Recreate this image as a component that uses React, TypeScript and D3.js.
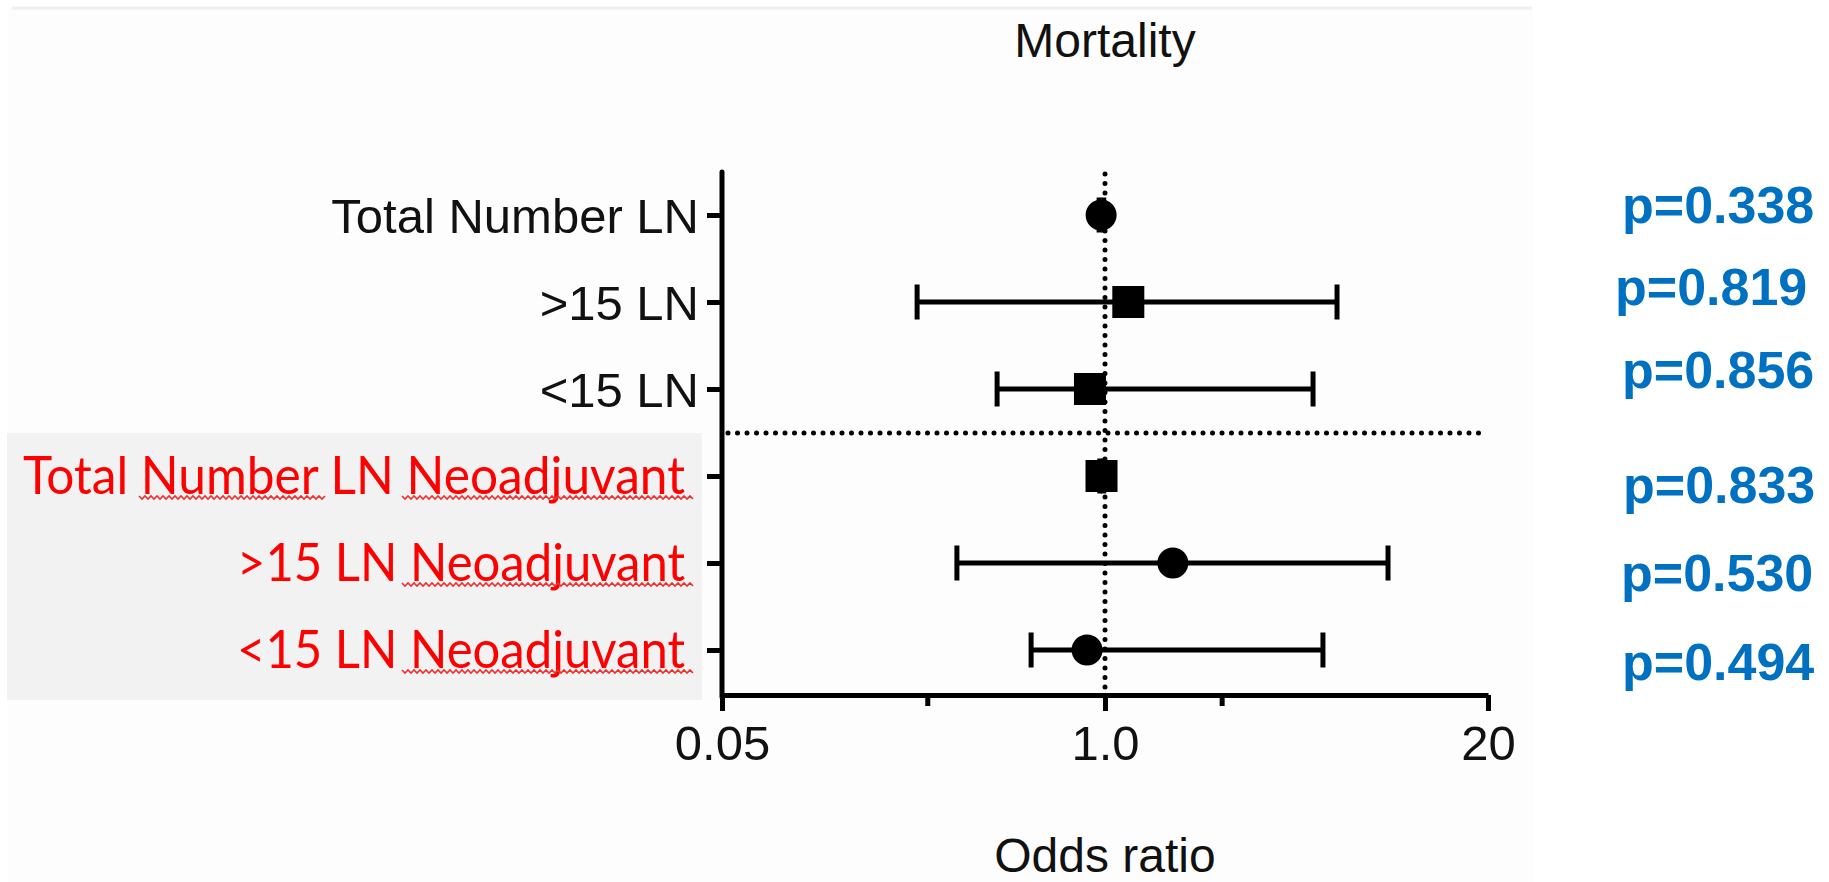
import { useEffect, useRef } from "react";
import * as d3 from "d3";

// Forest plot: odds ratio of mortality per lymph-node group
const ROWS = [
  "Total Number LN",
  ">15 LN",
  "<15 LN",
  "Total Number LN Neoadjuvant",
  ">15 LN Neoadjuvant",
  "<15 LN Neoadjuvant",
];
const ODDS = [0.97, 1.2, 0.889, 0.973, 1.7, 0.869];
const LOWER = [0.955, 0.23, 0.43, 0.96, 0.314, 0.561];
const UPPER = [0.99, 6.14, 5.09, 0.99, 9.15, 5.5];
const MARKERS = ["circle", "square", "square", "square", "circle", "circle"];
const NEOADJUVANT = [false, false, false, true, true, true];
const P_VALUES = ["p=0.338", "p=0.819", "p=0.856", "p=0.833", "p=0.530", "p=0.494"];

const X_TICKS = [0.05, 1, 20];
const X_TICK_LABELS = ["0.05", "1.0", "20"];
const MINOR_TICKS = [0.25, 2.5];

// layout
const W = 1829;
const H = 882;
const PLOT = { left: 722, right: 1488, top: 172, bottom: 695, firstRow: 215, lastRow: 650 };
const P_X = [1622, 1615, 1622, 1623, 1621, 1622];
const P_Y = [223, 305, 388, 503, 591, 680];
const RED_WIDTH = [0, 0, 0, 662, 448, 448];
const ARIAL = "Arial, 'Liberation Sans', Helvetica, sans-serif";
const STROKE = 5;

function squiggle(x0: number, x1: number, y: number) {
  const pts: [number, number][] = [];
  for (let x = x0, i = 0; x <= x1; x += 3, i++) pts.push([x, y + (i % 2 ? 3 : 0)]);
  return d3.line()(pts) ?? "";
}

export default function App() {
  const svgRef = useRef<SVGSVGElement>(null);

  useEffect(() => {
    if (!svgRef.current) return;
    const svg = d3.select(svgRef.current);
    svg.selectAll("*").remove();

    const x = d3.scaleLog().domain([0.05, 20]).range([PLOT.left, PLOT.right]);
    const y = d3.scalePoint<string>().domain(ROWS).range([PLOT.firstRow, PLOT.lastRow]);

    // page background / frame
    svg.append("rect").attr("x", 8).attr("y", 8).attr("width", 1525).attr("height", H - 8).attr("fill", "#fdfdfd");
    svg.append("line").attr("x1", 12).attr("x2", 1532).attr("y1", 8).attr("y2", 8)
      .attr("stroke", "#efefef").attr("stroke-width", 3);

    // shaded neoadjuvant label block
    svg.append("rect").attr("x", 7).attr("y", 433).attr("width", 695).attr("height", 267).attr("fill", "#f2f2f2");

    // title
    svg.append("text").attr("x", x(1)).attr("y", 57).attr("text-anchor", "middle")
      .attr("font-family", ARIAL).attr("font-size", 48).attr("fill", "#111").text("Mortality");

    // reference lines
    svg.append("line")
      .attr("x1", x(1)).attr("x2", x(1)).attr("y1", PLOT.top + 2).attr("y2", PLOT.bottom)
      .attr("stroke", "#000").attr("stroke-width", 5).attr("stroke-linecap", "round")
      .attr("stroke-dasharray", "0,9.5");
    svg.append("line")
      .attr("x1", PLOT.left + 6).attr("x2", 1482).attr("y1", 433).attr("y2", 433)
      .attr("stroke", "#000").attr("stroke-width", 5).attr("stroke-linecap", "round")
      .attr("stroke-dasharray", "0,9.5");

    // x axis
    const gx = svg.append("g").attr("transform", `translate(0,${PLOT.bottom})`);
    gx.call(
      d3.axisBottom(x).tickValues(X_TICKS).tickSize(16).tickSizeOuter(0)
        .tickFormat((_, i) => X_TICK_LABELS[i])
    );
    gx.select(".domain").attr("stroke-width", STROKE).attr("stroke", "#000");
    gx.selectAll(".tick line").attr("stroke-width", STROKE).attr("stroke", "#000");
    gx.selectAll(".tick text").attr("y", 65).attr("dy", null)
      .attr("font-family", ARIAL).attr("font-size", 49).attr("fill", "#111");
    gx.selectAll(".minor").data(MINOR_TICKS).join("line").attr("class", "minor")
      .attr("x1", (d) => x(d)).attr("x2", (d) => x(d)).attr("y1", 0).attr("y2", 11)
      .attr("stroke", "#000").attr("stroke-width", STROKE);

    // y axis
    const gy = svg.append("g").attr("transform", `translate(${PLOT.left},0)`);
    gy.call(d3.axisLeft(y).tickSize(15).tickSizeOuter(0).tickPadding(8));
    gy.select(".domain").remove();
    gy.append("line").attr("y1", PLOT.top).attr("y2", PLOT.bottom + 2)
      .attr("stroke", "#000").attr("stroke-width", STROKE).attr("stroke-linecap", "round");
    gy.selectAll(".tick line").attr("stroke-width", STROKE).attr("stroke", "#000");
    gy.selectAll<SVGTextElement, string>(".tick text").each(function (d) {
      const i = ROWS.indexOf(d);
      const t = d3.select(this).attr("dy", null).attr("y", NEOADJUVANT[i] ? 17 : 17.5);
      if (NEOADJUVANT[i]) {
        t.attr("x", -37).attr("font-family", "Lato, 'Open Sans', sans-serif").attr("font-size", 52)
          .attr("fill", "#ff0000").attr("textLength", RED_WIDTH[i]).attr("lengthAdjust", "spacingAndGlyphs");
      } else {
        t.attr("font-family", ARIAL).attr("font-size", 49).attr("fill", "#111");
      }
    });

    // spell-check squiggles under the red labels
    const sq = svg.append("g").attr("fill", "none").attr("stroke", "#f03030").attr("stroke-width", 1.6);
    ROWS.forEach((r, i) => {
      if (!NEOADJUVANT[i]) return;
      const base = (y(r) ?? 0) + 17;
      sq.append("path").attr("d", squiggle(402, 693, base + 3));
      if (r.startsWith("Total")) sq.append("path").attr("d", squiggle(139, 325, base + 3));
    });

    // confidence intervals
    const g = svg.append("g").attr("stroke", "#000").attr("stroke-width", STROKE);
    const data = ROWS.map((r, i) => ({ r, or: ODDS[i], lo: LOWER[i], hi: UPPER[i], m: MARKERS[i] }));
    g.selectAll(".ci").data(data).join("line").attr("class", "ci")
      .attr("x1", (d) => x(d.lo)).attr("x2", (d) => x(d.hi))
      .attr("y1", (d) => y(d.r) ?? 0).attr("y2", (d) => y(d.r) ?? 0);
    g.selectAll(".caplo").data(data).join("line").attr("class", "caplo")
      .attr("x1", (d) => x(d.lo)).attr("x2", (d) => x(d.lo))
      .attr("y1", (d) => (y(d.r) ?? 0) - 17.5).attr("y2", (d) => (y(d.r) ?? 0) + 17.5);
    g.selectAll(".caphi").data(data).join("line").attr("class", "caphi")
      .attr("x1", (d) => x(d.hi)).attr("x2", (d) => x(d.hi))
      .attr("y1", (d) => (y(d.r) ?? 0) - 17.5).attr("y2", (d) => (y(d.r) ?? 0) + 17.5);

    // point estimates
    svg.selectAll(".dot").data(data.filter((d) => d.m === "circle")).join("circle").attr("class", "dot")
      .attr("cx", (d) => x(d.or)).attr("cy", (d) => y(d.r) ?? 0).attr("r", 15.5).attr("fill", "#000");
    svg.selectAll(".sqr").data(data.filter((d) => d.m === "square")).join("rect").attr("class", "sqr")
      .attr("x", (d) => x(d.or) - 16).attr("y", (d) => (y(d.r) ?? 0) - 16)
      .attr("width", 32).attr("height", 32).attr("fill", "#000");

    // x axis title
    svg.append("text").attr("x", x(1)).attr("y", 872).attr("text-anchor", "middle")
      .attr("font-family", ARIAL).attr("font-size", 48).attr("fill", "#111").text("Odds ratio");

    // p-values
    svg.selectAll(".pval").data(P_VALUES).join("text").attr("class", "pval")
      .attr("x", (_, i) => P_X[i]).attr("y", (_, i) => P_Y[i])
      .attr("font-family", ARIAL).attr("font-weight", "bold").attr("font-size", 52)
      .attr("fill", "#0070c0").text((d) => d);
  }, []);

  return (
    <svg
      ref={svgRef}
      width={W}
      height={H}
      style={{ position: "absolute", left: 0, top: 0, background: "#fff" }}
    />
  );
}
